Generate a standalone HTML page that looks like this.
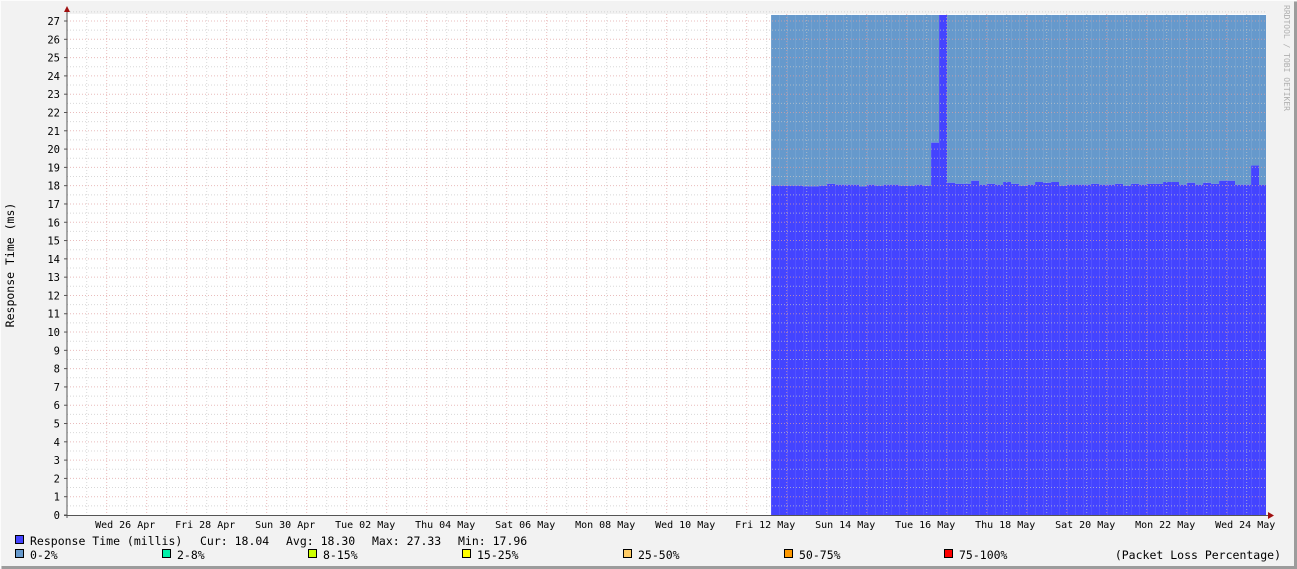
<!DOCTYPE html>
<html><head><meta charset="utf-8"><style>
html,body{margin:0;padding:0;background:#f2f2f2;}
svg{display:block;font-family:"DejaVu Sans Mono","Liberation Mono",monospace;}
text{white-space:pre;}
</style></head><body>
<svg id="chart" width="1297" height="569" viewBox="0 0 1297 569" xmlns="http://www.w3.org/2000/svg">
<rect x="0" y="0" width="1297" height="569" fill="#f2f2f2"/>
<path d="M0.5 568.5 V0.5 H1296.5" stroke="#fcfcfc" fill="none"/>
<path d="M1.5 567.5 H1295.5 V1.5" stroke="#9c9c9c" stroke-width="3" fill="none"/>
<rect x="67" y="14" width="1199" height="501" fill="#ffffff"/>
<g id="areas"></g>
<g id="grid"></g>
<g id="axes"></g>
<text transform="translate(14,265) rotate(-90)" text-anchor="middle" font-size="11.5" fill="#000">Response Time (ms)</text>
<text transform="translate(1284,5) rotate(90)" font-size="8" fill="#b0b0b0">RRDTOOL / TOBI OETIKER</text>
<g id="legend" font-size="11.5"></g>
</svg>
<script>
// ---- data ----
const dayLabels = ["Wed 26 Apr","Fri 28 Apr","Sun 30 Apr","Tue 02 May","Thu 04 May","Sat 06 May","Mon 08 May","Wed 10 May","Fri 12 May","Sun 14 May","Tue 16 May","Thu 18 May","Sat 20 May","Mon 22 May","Wed 24 May"];
const labelDays = [1,3,5,7,9,11,13,15,17,19,21,23,25,27,29];
const yTicks = [0,1,2,3,4,5,6,7,8,9,10,11,12,13,14,15,16,17,18,19,20,21,22,23,24,25,26,27];
const dataStartDay = 17.61;
const barDays = 0.2;
const responseTimes = [18.0,18.0,18.0,18.0,17.96,17.96,18.0,18.1,18.05,18.05,18.05,17.96,18.05,18.0,18.05,18.05,18.0,18.0,18.05,18.0,20.35,27.33,18.16,18.1,18.1,18.27,18.05,18.1,18.05,18.2,
18.1,18.0,18.05,18.2,18.16,18.2,18.0,18.05,18.05,18.05,18.1,18.05,18.05,18.1,18.0,18.1,18.05,18.1,18.1,18.2,18.2,18.05,18.16,18.05,18.16,18.1,18.27,18.27,18.05,18.05,19.1,18.04];
const maxValue = 27.33;
const legendLabels = ["0-2%","2-8%","8-15%","15-25%","25-50%","50-75%","75-100%"];
const legendColors = ["#6699cc","#00f0a8","#ccff00","#ffff00","#ffcc66","#ff9900","#ff0000"];
const statLabels = ["Cur: 18.04","Avg: 18.30","Max: 27.33","Min: 17.96"];

// ---- scales ----
const X0=66.7, PXDAY=40, XEND=1266, Y0=515, PXU=18.296;
const xs = d => X0 + d*PXDAY;
const ys = v => Y0 - v*PXU;
const NS="http://www.w3.org/2000/svg";
function mk(tag, attrs, parent){const e=document.createElementNS(NS,tag);for(const k in attrs)e.setAttribute(k,attrs[k]);parent.appendChild(e);return e;}

const areas=document.getElementById('areas');
responseTimes.forEach((v,i)=>{
  const x1=xs(dataStartDay+i*barDays), x2=Math.min(XEND, xs(dataStartDay+(i+1)*barDays));
  if(x2<=x1) return;
  const loss=mk('rect',{x:x1,y:ys(maxValue),width:x2-x1,height:ys(v)-ys(maxValue),fill:'#6699cc'},areas);
  
  
  const b=mk('rect',{x:x1,y:ys(v),width:x2-x1,height:Y0-ys(v),fill:'#4444ff'},areas);
  
  
});

const grid=document.getElementById('grid');
for(let d=0.5; xs(d)<XEND; d+=0.5){
  const major = Math.abs(d-Math.round(d))<1e-6;
  const l=mk('line',{x1:xs(d),x2:xs(d),y1:14,y2:Y0,stroke:major?'#e0a0a0':'#c8c8c8','stroke-dasharray':'1,2','stroke-opacity':'0.7'},grid);
  
  
}
for(let v=0.5; v<=27.5; v+=0.5){
  const major = Math.abs(v-Math.round(v))<1e-6;
  const l=mk('line',{x1:67,x2:XEND,y1:ys(v),y2:ys(v),stroke:major?'#e0a0a0':'#c8c8c8','stroke-dasharray':'1,2','stroke-opacity':'0.7'},grid);
  
  
}

const axes=document.getElementById('axes');
yTicks.forEach(v=>{
  const t=mk('text',{x:60,y:ys(v)+4,'text-anchor':'end','font-size':'10.5',fill:'#000'},axes);
  t.textContent=v;
  
  
  mk('line',{x1:64,x2:67,y1:ys(v),y2:ys(v),stroke:'#555'},axes);
});
dayLabels.forEach((lab,i)=>{
  const t=mk('text',{x:xs(labelDays[i])+18.5,y:528,'text-anchor':'middle','font-size':'10',fill:'#000'},axes);
  t.textContent=lab;
  
  
});
mk('line',{x1:67,x2:67,y1:10,y2:518,stroke:'#555'},axes);
mk('line',{x1:64,x2:1270,y1:515.5,y2:515.5,stroke:'#555'},axes);
mk('path',{d:'M64 12 L67 6 L70 12 Z',fill:'#a01010'},axes);
mk('path',{d:'M1268 512 L1274 515.5 L1268 519 Z',fill:'#a01010'},axes);

const lg=document.getElementById('legend');
function legendItem(x,y,color,text,name){
  const r=mk('rect',{x:x+0.5,y:y-9.5,width:8,height:8,fill:color,stroke:'#000'},lg);
  
  
  const t=mk('text',{x:x+15,y:y,fill:'#000'},lg);
  t.textContent=text;
  
  
}
legendItem(15,545,'#4444ff','Response Time (millis)','legend-response-time');
const sx=[200,286,372,458];
statLabels.forEach((s,i)=>{
  const t=mk('text',{x:sx[i],y:545,fill:'#000'},lg);
  t.textContent=s;
  
  
});
const lx=[15,162,308,462,623,784,944];
legendLabels.forEach((l,i)=>legendItem(lx[i],559,legendColors[i],l,'legend-loss-'+i));
const pl=mk('text',{x:1281,y:559,'text-anchor':'end',fill:'#000'},lg);
pl.textContent='(Packet Loss Percentage)';


</script>
</body></html>
